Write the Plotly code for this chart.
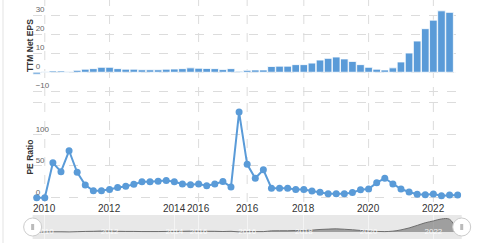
import plotly.graph_objects as go

W, H = 481, 243

# ---- data (quarterly, 53 periods) ----
eps_ttm = [-1.0, 0.3, 0.7, 0.7, 0.4, 1.0, 1.6, 1.9, 2.6, 2.6,
           1.9, 1.6, 1.6, 1.3, 1.3, 1.3, 1.6, 1.7, 1.9, 2.3,
           2.1, 2.0, 1.9, 1.4, 1.9, 0.5, 1.0, 1.2, 1.2, 3.0,
           3.2, 3.2, 4.0, 4.0, 4.8, 6.4, 7.3, 8.0, 7.0, 5.7,
           4.0, 2.6, 1.6, 1.2, 2.3, 5.4, 10.1, 16.4, 22.9, 27.4,
           32.3, 31.5, 0.0]
pe_ratio = [0, 0, 55, 41, 74, 40, 20, 11, 11, 13,
            16, 18, 21, 25, 25, 26, 27, 25, 21.5, 20.5,
            21.5, 19, 21.5, 25.5, 17, 135, 52.6, 30.6, 44, 15,
            15, 15, 13, 13, 10.5, 8.5, 6.3, 6.3, 6.3, 8,
            12.6, 13.7, 23.7, 30.6, 21.6, 13.7, 9, 5.3, 4.7, 5.8,
            3.2, 4.2, 4.2]
tick_pos = [1, 9, 17, 20, 26, 33, 41, 49]
tick_text = ["2010", "2012", "2014", "2016", "2016", "2018", "2020", "2022"]
grid_pos = [1, 9, 20, 26, 33, 41, 49]
eps_ticks = [-10, 0, 10, 20, 30]
pe_ticks = [0, 50, 100, 150]
pe_tick_text = ["0", "50", "100", ""]

idx = list(range(len(pe_ratio)))

BLUE = "#5a9bd8"
GRID = "#dcdcdc"
FONT = "Liberation Sans, Arial, sans-serif"


def ydom(top, bottom):
    return [1 - bottom / H, 1 - top / H]


xdom = [32.65 / W, 461.7 / W]
xr = [-0.5, len(idx) - 0.5]

fig = go.Figure()
fig.add_trace(go.Bar(x=idx, y=eps_ttm, marker=dict(color=BLUE, line=dict(color="white", width=0.8)),
                     xaxis="x", yaxis="y", showlegend=False))
fig.add_trace(go.Scatter(x=idx, y=pe_ratio, mode="lines+markers",
                         line=dict(color=BLUE, width=2), marker=dict(color=BLUE, size=7),
                         xaxis="x2", yaxis="y2", showlegend=False))
fig.add_trace(go.Scatter(x=idx, y=eps_ttm, mode="lines", line=dict(color="#6e6e6e", width=1, shape="spline"),
                         fill="tozeroy", fillcolor="rgba(110,110,110,0.6)",
                         xaxis="x3", yaxis="y3", showlegend=False, hoverinfo="skip"))

common_x = dict(domain=xdom, range=xr, showgrid=False, zeroline=False, showline=False, ticks="", tickangle=0)

layout = dict(
    width=W, height=H, margin=dict(l=0, r=0, t=0, b=0),
    paper_bgcolor="white", plot_bgcolor="rgba(0,0,0,0)",
    font=dict(family=FONT, color="#333"),
    bargap=0.06,
    xaxis=dict(**common_x, anchor="y", showticklabels=False),
    yaxis=dict(domain=ydom(0, 96), range=[-12.5, 38], anchor="x",
               tickvals=eps_ticks, ticklabelposition="inside top",
               tickfont=dict(size=8, color="#666"), showgrid=True, gridcolor=GRID,
               griddash="dash", gridwidth=1, zeroline=False),
    xaxis2=dict(**common_x, anchor="y2", showticklabels=False),
    yaxis2=dict(domain=ydom(101, 202), range=[-6.8, 152.5], anchor="x2",
                tickvals=pe_ticks, ticktext=pe_tick_text, ticklabelposition="inside top",
                tickfont=dict(size=8, color="#666"), showgrid=True, gridcolor=GRID,
                griddash="dash", gridwidth=1, zeroline=False),
    xaxis3=dict(domain=xdom, range=xr, anchor="y3", tickvals=tick_pos, ticktext=tick_text, tickangle=0,
                ticklabelposition="inside", ticklabeloverflow="allow",
                tickfont=dict(size=8, color="rgba(255,255,255,0.9)"),
                showgrid=True, gridcolor="rgba(255,255,255,0.5)", zeroline=False, showline=False, ticks=""),
    yaxis3=dict(domain=ydom(215, 239), range=[-17, 42], anchor="x3", visible=False, fixedrange=True),
)

shapes = []
# navigator background
shapes.append(dict(type="rect", xref="x3 domain", yref="y3 domain", x0=0, x1=1, y0=0, y1=1,
                   fillcolor="#e8e8e8", line=dict(width=0), layer="below"))
# vertical grid lines for the two main panels
for gp in grid_pos:
    for yr in ("y domain", "y2 domain"):
        shapes.append(dict(type="line", xref="x", yref=yr, x0=gp, x1=gp, y0=0, y1=1,
                           line=dict(color=GRID, width=1, dash="dash"), layer="below"))
# navigator handles
for anchor in (0, 1):
    shapes.append(dict(type="circle", xref="x3 domain", yref="y3 domain",
                       xsizemode="pixel", ysizemode="pixel", xanchor=anchor, yanchor=0.5,
                       x0=-9, x1=9, y0=-9, y1=9, fillcolor="white",
                       line=dict(color="#cccccc", width=1), layer="above"))
    shapes.append(dict(type="rect", xref="x3 domain", yref="y3 domain",
                       xsizemode="pixel", ysizemode="pixel", xanchor=anchor, yanchor=0.5,
                       x0=-1.5, x1=1.5, y0=-3, y1=3, fillcolor="#bbbbbb",
                       line=dict(width=0), layer="above"))
# left container border
shapes.append(dict(type="line", xref="paper", yref="paper", x0=3 / W, x1=3 / W, y0=0, y1=1,
                   line=dict(color="#e3e3e3", width=1)))
layout["shapes"] = shapes

annotations = [
    dict(text="<b>TTM Net EPS</b>", xref="paper", yref="y domain", x=23 / W, y=0.52,
         textangle=-90, showarrow=False, font=dict(size=8.5, color="#333")),
    dict(text="<b>PE Ratio</b>", xref="paper", yref="y2 domain", x=23 / W, y=0.44,
         textangle=-90, showarrow=False, font=dict(size=8.5, color="#333")),
]
# shared date labels under the lower panel
for tp, tt in zip(tick_pos, tick_text):
    annotations.append(dict(text=tt, xref="x2", yref="paper", x=tp, y=1 - 208 / H,
                            xanchor="center", yanchor="middle", showarrow=False,
                            font=dict(size=10, color="#333")))
layout["annotations"] = annotations

fig.update_layout(**layout)
fig.write_html("out.html")
